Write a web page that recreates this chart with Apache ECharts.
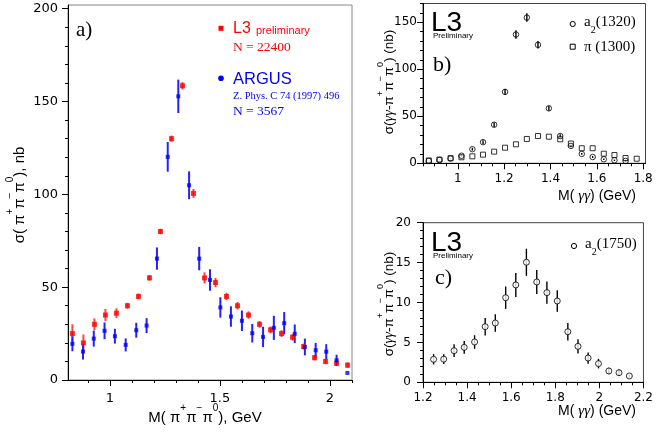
<!DOCTYPE html>
<html>
<head>
<meta charset="utf-8">
<script src="https://cdn.jsdelivr.net/npm/echarts@6/dist/echarts.min.js"></script>
<style>
html, body { margin: 0; padding: 0; background: #fff; }
#chart { width: 656px; height: 432px; }
</style>
</head>
<body>
<div id="chart"></div>
<script>
// a) L3 preliminary vs ARGUS, sigma(pi+ pi- pi0)
const l3X = [0.83, 0.88, 0.93, 0.98, 1.03, 1.08, 1.13, 1.18, 1.23, 1.28, 1.33, 1.38, 1.43,
             1.48, 1.53, 1.58, 1.63, 1.68, 1.73, 1.78, 1.83, 1.88, 1.93, 1.98, 2.03, 2.08];
const l3Y = [25, 20, 30, 35, 36, 40, 45, 55, 80, 130, 158.5, 100.5, 55,
             52.5, 45, 40, 35, 30, 27, 25, 23, 18, 12, 10, 9, 8];
const l3Err = [5, 4.5, 3.2, 3.3, 2.6, 1.6, 1.6, 1.5, 1.5, 1.7, 2, 2.4, 3,
               2.5, 2, 2, 2, 1.8, 1.8, 1.8, 1.8, 1.6, 1.5, 1.5, 1.5, 1.5];

const argusX = [0.83, 0.878, 0.927, 0.976, 1.023, 1.072, 1.12, 1.167, 1.214, 1.263, 1.311, 1.36, 1.406,
                1.455, 1.502, 1.55, 1.6, 1.647, 1.696, 1.745, 1.792, 1.84, 1.886, 1.935, 1.983, 2.03, 2.079];
const argusY = [19.5, 15.3, 22.3, 26.5, 23.6, 18.9, 26.8, 29.3, 65.4, 120.2, 152.8, 104.9, 65.4,
                53.9, 39.1, 34.2, 31.9, 25.2, 23.2, 28.1, 30.6, 24.9, 17.8, 16, 15.3, 10.6, 3.8];
const argusErr = [4, 4.3, 4.3, 4.5, 4, 3.5, 4, 4, 6, 8, 9, 7.5, 6.3,
                  5.8, 5.5, 5.5, 5.5, 5, 5.5, 6.5, 6, 5, 4.5, 4, 4, 3, 0];

// b) a2(1320) and pi(1300)
const bX = [0.875, 0.921, 0.969, 1.016, 1.063, 1.109, 1.157, 1.204, 1.251, 1.298,
            1.346, 1.393, 1.442, 1.488, 1.535, 1.582, 1.63, 1.676, 1.724, 1.772];
const a2Y = [2.5, 3.5, 5, 8, 15, 22.5, 41, 76, 137, 155,
             126, 58.5, 29, 18.5, 10, 6.7, 4.3, 3.2, 2.5, null];
const a2Err = [0.5, 0.5, 0.7, 1, 1.5, 2, 2.5, 3, 4.5, 4.5,
               4, 2.5, 2, 1.5, 1, 1, 0.8, 0.7, 0.5, 0];
const pi1300Y = [3, 4, 5.5, 6.4, 7.4, 9.2, 12.4, 16.6, 20.2, 25.9,
                 29, 28.3, 25.5, 21, 16, 16, 10.2, 8.8, 5.6, 4.9];

// c) a2(1750)
const cX = [1.248, 1.294, 1.341, 1.387, 1.434, 1.482, 1.528, 1.575, 1.621, 1.669,
            1.716, 1.762, 1.809, 1.857, 1.903, 1.949, 1.996, 2.043, 2.089, 2.136];
const a2hY = [2.88, 2.9, 3.96, 4.38, 5.05, 6.97, 7.43, 10.6, 12.2, 15.04,
              12.57, 11.23, 10.19, 6.34, 4.5, 3.04, 2.34, 1.42, 1.2, 0.79];
const a2hErr = [0.65, 0.6, 0.8, 0.8, 0.85, 1.1, 1.1, 1.4, 1.5, 1.7,
                1.5, 1.4, 1.35, 1.1, 0.9, 0.7, 0.6, 0.4, 0.4, 0.2];

// tick labels
const aXTicks = [1, 1.5, 2];
const aXMinor = [0.9, 1, 1.1, 1.2, 1.3, 1.4, 1.5, 1.6, 1.7, 1.8, 1.9, 2, 2.1];
const aYTicks = [0, 50, 100, 150, 200];
const aYMinor = [10, 20, 30, 40, 60, 70, 80, 90, 110, 120, 130, 140, 160, 170, 180, 190];
const bXTicks = [1, 1.2, 1.4, 1.6, 1.8];
const bXMinor = [0.85, 0.9, 0.95, 1.05, 1.1, 1.15, 1.25, 1.3, 1.35, 1.45, 1.5, 1.55, 1.65, 1.7, 1.75];
const bYTicks = [0, 50, 100, 150];
const bYMinor = [10, 20, 30, 40, 60, 70, 80, 90, 110, 120, 130, 140, 160, 170];
const cXTicks = [1.2, 1.4, 1.6, 1.8, 2, 2.2];
const cXMinor = [1.25, 1.3, 1.35, 1.45, 1.5, 1.55, 1.65, 1.7, 1.75, 1.85, 1.9, 1.95, 2.05, 2.1, 2.15];
const cYTicks = [0, 5, 10, 15, 20];
const cYMinor = [1, 2, 3, 4, 6, 7, 8, 9, 11, 12, 13, 14, 16, 17, 18, 19];

const SANS = '"Liberation Sans", Arial, sans-serif';
const TICKF = '"DejaVu Sans", sans-serif';
const SERIF = '"Liberation Serif", "Times New Roman", serif';

function pairs(xs, ys) {
    return xs.map(function (x, i) { return [x, ys[i]]; }).filter(function (p) { return p[1] != null; });
}
function bars(xs, ys, es) {
    return xs.map(function (x, i) { return [x, ys[i] - es[i], ys[i] + es[i]]; })
        .filter(function (p, i) { return ys[i] != null && es[i] > 0; });
}
function errItem(params, api) {
    const x = api.value(0);
    const p1 = api.coord([x, api.value(1)]);
    const p2 = api.coord([x, api.value(2)]);
    return {
        type: 'line',
        shape: { x1: p1[0], y1: p1[1], x2: p2[0], y2: p2[1] },
        style: { stroke: api.visual('color'), lineWidth: params.seriesIndex < 2 ? 2 : 1.4 }
    };
}

function mainX(grid, min, max, ticks, margin) {
    return {
        type: 'value', gridIndex: grid, min: min, max: max, position: 'bottom',
        axisLine: { onZero: false, lineStyle: { color: '#000', width: 1 } },
        axisTick: { length: 6, customValues: ticks, lineStyle: { color: '#000' } },
        axisLabel: { customValues: ticks, color: '#000', fontFamily: TICKF, fontSize: grid === 0 ? 13 : 12, margin: margin },
        splitLine: { show: false }
    };
}
function minorX(grid, min, max, ticks) {
    return {
        type: 'value', gridIndex: grid, min: min, max: max, position: 'bottom',
        axisLine: { show: false, onZero: false },
        axisTick: { length: 3, customValues: ticks, lineStyle: { color: '#000' } },
        axisLabel: { show: false, customValues: ticks },
        splitLine: { show: false }
    };
}
function mainY(grid, min, max, ticks, margin) {
    return {
        type: 'value', gridIndex: grid, min: min, max: max, position: 'left',
        axisLine: { show: true, onZero: false, lineStyle: { color: '#000', width: 1 } },
        axisTick: { show: true, length: 6, customValues: ticks, lineStyle: { color: '#000' } },
        axisLabel: { customValues: ticks, color: '#000', fontFamily: TICKF, fontSize: grid === 0 ? 13 : 12, margin: margin },
        splitLine: { show: false }
    };
}
function minorY(grid, min, max, ticks) {
    return {
        type: 'value', gridIndex: grid, min: min, max: max, position: 'left',
        axisLine: { show: false, onZero: false },
        axisTick: { show: true, length: 3, customValues: ticks, lineStyle: { color: '#000' } },
        axisLabel: { show: false, customValues: ticks },
        splitLine: { show: false }
    };
}

function txt(x, y, text, font, size, color, extra) {
    return {
        type: 'text', x: x, y: y, z: 10,
        style: Object.assign({
            text: text, fontFamily: font, fontSize: size, fill: color,
            align: 'left', verticalAlign: 'middle'
        }, extra || {})
    };
}
// rich styles: main text sits low in a tall line, superscripts ride at the top
function richSup(size, supSize) {
    return {
        m: { fontSize: size, fontFamily: SANS, fill: '#000', lineHeight: size + 7, verticalAlign: 'bottom' },
        g: { fontSize: size + 1, fontFamily: SERIF, fontStyle: 'italic', fill: '#000', lineHeight: size + 7, verticalAlign: 'bottom' },
        s: { fontSize: supSize, fontFamily: SANS, fill: '#000', lineHeight: supSize, verticalAlign: 'top' }
    };
}
const richSub = {
    t: { fontSize: 15, fontFamily: SERIF, fill: '#000', lineHeight: 20, verticalAlign: 'top' },
    u: { fontSize: 10, fontFamily: SERIF, fill: '#000', lineHeight: 10, verticalAlign: 'bottom' }
};
const sigmaGG = '{m|σ(}{g|γγ}{m|-π}{s|+}{m|π}{s|−}{m|π}{s|0}{m|) (nb)}';
const mGG = '{m|M( }{g|γγ}{m|) (GeV)}';
const richMG = {
    m: { fontSize: 14, fontFamily: SANS, fill: '#000' },
    g: { fontSize: 15, fontFamily: SERIF, fontStyle: 'italic', fill: '#000' }
};

const graphics = [
    // a) labels
    txt(76, 30, 'a)', SERIF, 21, '#000'),
    { type: 'rect', shape: { x: 218.5, y: 25.8, width: 5, height: 5 }, style: { fill: '#ff0000' } },
    txt(233, 29, 'L3', SANS, 16, '#ff0000'),
    txt(256, 31, 'preliminary', SANS, 11, '#ff0000'),
    txt(233, 47, 'N = 22400', SERIF, 13.5, '#ff0000'),
    { type: 'circle', shape: { cx: 221, cy: 78.3, r: 2.8 }, style: { fill: '#0000ff' } },
    txt(233, 79, 'ARGUS', SANS, 16.5, '#0000ff'),
    txt(233, 96, 'Z. Phys. C 74 (1997) 496', SERIF, 10.5, '#0000ff'),
    txt(233, 111.5, 'N = 3567', SERIF, 13.5, '#0000ff'),
    {
        type: 'text', x: 16, y: 195, rotation: Math.PI / 2, z: 10,
        style: {
            text: '{m|σ( π}{s|+}{m|π}{s|−}{m|π}{s|0}{m|), nb}', align: 'center', verticalAlign: 'middle',
            rich: richSup(15, 10)
        }
    },
    {
        type: 'text', x: 205, y: 414, z: 10,
        style: {
            text: '{m|M( π}{s|+}{m|π}{s|−}{m|π}{s|0}{m|), GeV}', align: 'center', verticalAlign: 'middle',
            rich: richSup(15, 10)
        }
    },
    // b) labels
    txt(431, 23, 'L3', SANS, 28, '#000'),
    txt(433, 36, 'Preliminary', SANS, 8, '#000'),
    txt(433, 65, 'b)', SERIF, 22, '#000'),
    { type: 'circle', shape: { cx: 572.7, cy: 24, r: 2.6 }, style: { fill: 'none', stroke: '#000', lineWidth: 1 } },
    txt(584, 25, '{t|a}{u|2}{t|(1320)}', SERIF, 15, '#000', { rich: richSub }),
    { type: 'rect', shape: { x: 570.2, y: 44.2, width: 5, height: 5 }, style: { fill: 'none', stroke: '#000', lineWidth: 1 } },
    txt(584, 47, 'π (1300)', SERIF, 15, '#000'),
    {
        type: 'text', x: 386, y: 82, rotation: Math.PI / 2, z: 10,
        style: { text: sigmaGG, align: 'center', verticalAlign: 'middle', rich: richSup(13.5, 9) }
    },
    {
        type: 'text', x: 636, y: 196, z: 10,
        style: { text: mGG, align: 'right', verticalAlign: 'middle', rich: richMG }
    },
    // c) labels
    txt(431, 243, 'L3', SANS, 28, '#000'),
    txt(433, 256, 'Preliminary', SANS, 8, '#000'),
    txt(435, 278, 'c)', SERIF, 22, '#000'),
    { type: 'circle', shape: { cx: 574, cy: 246, r: 2.6 }, style: { fill: 'none', stroke: '#000', lineWidth: 1 } },
    txt(585, 247, '{t|a}{u|2}{t|(1750)}', SERIF, 15, '#000', { rich: richSub }),
    {
        type: 'text', x: 386, y: 304, rotation: Math.PI / 2, z: 10,
        style: { text: sigmaGG, align: 'center', verticalAlign: 'middle', rich: richSup(13.5, 9) }
    },
    {
        type: 'text', x: 636, y: 411, z: 10,
        style: { text: mGG, align: 'right', verticalAlign: 'middle', rich: richMG }
    }
];

const myChart = echarts.init(document.getElementById('chart'), null, { renderer: 'canvas' });
const option = {
    backgroundColor: '#fff',
    animation: false,
    grid: [
        { left: 68, top: 5, right: 304, bottom: 52, show: true, borderColor: '#888', borderWidth: 1 },
        { left: 423, top: 3.5, right: 10.5, bottom: 268.7, show: true, borderColor: '#444', borderWidth: 1 },
        { left: 423, top: 222.7, right: 11, bottom: 49.7, show: true, borderColor: '#444', borderWidth: 1 }
    ],
    xAxis: [
        mainX(0, 0.81, 2.1, aXTicks, 12),
        minorX(0, 0.81, 2.1, aXMinor),
        mainX(1, 0.85, 1.81, bXTicks, 10),
        minorX(1, 0.85, 1.81, bXMinor),
        mainX(2, 1.2, 2.2, cXTicks, 10),
        minorX(2, 1.2, 2.2, cXMinor)
    ],
    yAxis: [
        mainY(0, 0, 202, aYTicks, 10),
        minorY(0, 0, 202, aYMinor),
        mainY(1, 0, 170, bYTicks, 6),
        minorY(1, 0, 170, bYMinor),
        mainY(2, 0, 20, cYTicks, 12),
        minorY(2, 0, 20, cYMinor)
    ],
    graphic: graphics,
    series: [
        { type: 'custom', name: 'L3 err', xAxisIndex: 0, yAxisIndex: 0, renderItem: errItem,
          itemStyle: { color: '#ff4444' }, encode: { x: 0, y: [1, 2] }, data: bars(l3X, l3Y, l3Err), z: 2 },
        { type: 'custom', name: 'ARGUS err', xAxisIndex: 0, yAxisIndex: 0, renderItem: errItem,
          itemStyle: { color: '#2222ff' }, encode: { x: 0, y: [1, 2] }, data: bars(argusX, argusY, argusErr), z: 2 },
        { type: 'scatter', name: 'L3', xAxisIndex: 0, yAxisIndex: 0, symbol: 'rect', symbolSize: 5,
          itemStyle: { color: '#ff0000' }, data: pairs(l3X, l3Y), z: 3 },
        { type: 'scatter', name: 'ARGUS', xAxisIndex: 0, yAxisIndex: 0, symbol: 'rect', symbolSize: 4,
          itemStyle: { color: '#0000ff' }, data: pairs(argusX, argusY), z: 3 },
        { type: 'custom', name: 'a2(1320) err', xAxisIndex: 2, yAxisIndex: 2, renderItem: errItem,
          itemStyle: { color: '#000' }, encode: { x: 0, y: [1, 2] }, data: bars(bX, a2Y, a2Err), z: 2 },
        { type: 'scatter', name: 'pi(1300)', xAxisIndex: 2, yAxisIndex: 2, symbol: 'rect', symbolSize: 5,
          itemStyle: { color: '#fff', borderColor: '#000', borderWidth: 1 }, data: pairs(bX, pi1300Y), z: 3 },
        { type: 'scatter', name: 'a2(1320)', xAxisIndex: 2, yAxisIndex: 2, symbol: 'circle', symbolSize: 5.5,
          itemStyle: { color: 'rgba(255,255,255,0)', borderColor: '#000', borderWidth: 1 }, data: pairs(bX, a2Y), z: 4 },
        { type: 'custom', name: 'a2(1750) err', xAxisIndex: 4, yAxisIndex: 4, renderItem: errItem,
          itemStyle: { color: '#000' }, encode: { x: 0, y: [1, 2] }, data: bars(cX, a2hY, a2hErr), z: 2 },
        { type: 'scatter', name: 'a2(1750)', xAxisIndex: 4, yAxisIndex: 4, symbol: 'circle', symbolSize: 6,
          itemStyle: { color: '#fff', borderColor: '#000', borderWidth: 1 }, data: pairs(cX, a2hY), z: 3 }
    ]
};
myChart.setOption(option);
</script>
</body>
</html>
